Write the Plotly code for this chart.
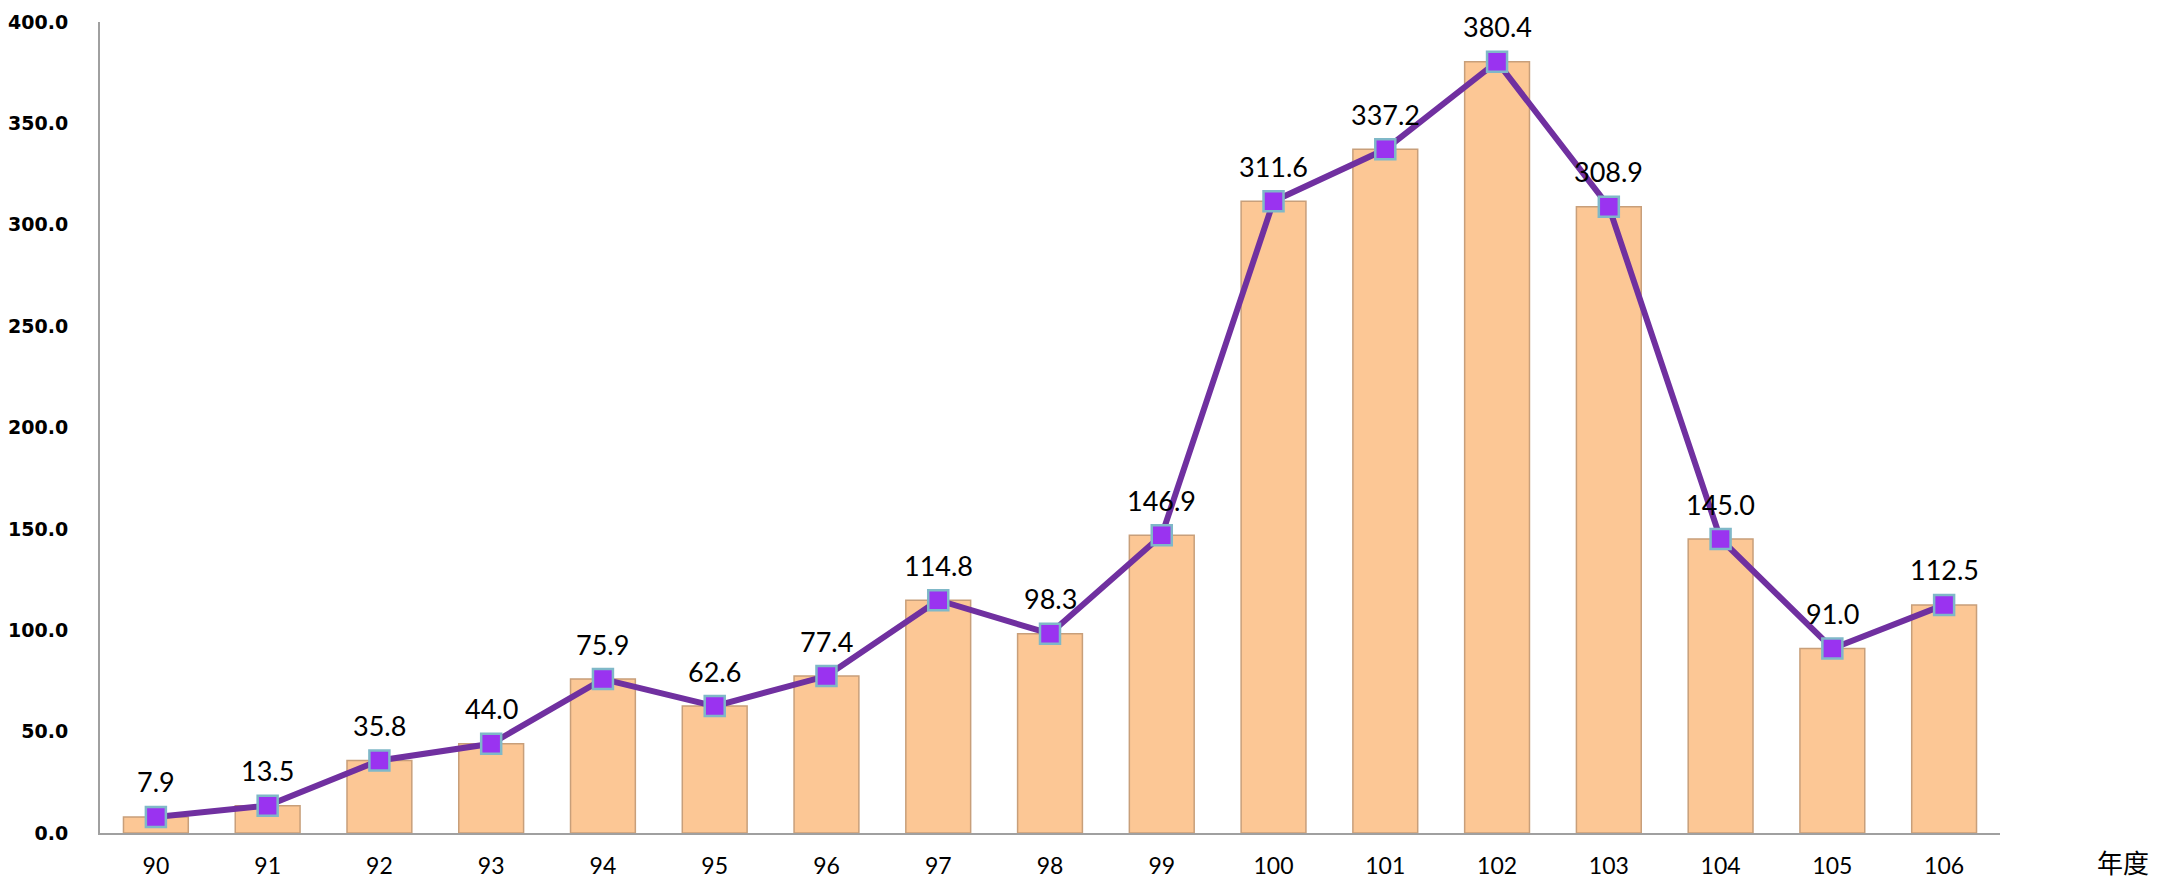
import plotly.graph_objects as go

years = ["90", "91", "92", "93", "94", "95", "96", "97", "98", "99",
         "100", "101", "102", "103", "104", "105", "106"]
values = [7.9, 13.5, 35.8, 44.0, 75.9, 62.6, 77.4, 114.8, 98.3, 146.9,
          311.6, 337.2, 380.4, 308.9, 145.0, 91.0, 112.5]
y_ticks = [0, 50, 100, 150, 200, 250, 300, 350, 400]
x_title = "年度"

fig = go.Figure()
fig.add_trace(go.Bar(
    x=years, y=values,
    marker=dict(color="#FCC795", line=dict(color="#C89F7A", width=1.5)),
    width=0.58, hoverinfo="skip", showlegend=False,
))
fig.add_trace(go.Scatter(
    x=years, y=values, mode="lines+markers",
    line=dict(color="#7030A0", width=6),
    marker=dict(symbol="square", size=20, color="#9A33F0",
                line=dict(color="#7FB8C8", width=2.5)),
    showlegend=False, cliponaxis=False,
))
for i, v in enumerate(values):
    fig.add_annotation(x=i, y=v, text=f"{v:.1f}", showarrow=False,
                       yshift=35, font=dict(family="Lato, Open Sans, sans-serif", size=27, color="#000"))

fig.add_annotation(xref="paper", yref="paper", x=1.0, y=0, xanchor="center", yanchor="top",
                   xshift=123, yshift=-8, text=x_title, showarrow=False,
                   font=dict(family="Noto Sans CJK TC", size=26, color="#000"))

fig.update_layout(
    width=2149, height=871,
    margin=dict(l=92, r=157, t=14, b=46),
    plot_bgcolor="white", paper_bgcolor="white",
    bargap=0.42,
    xaxis=dict(type="category", range=[-0.5, len(years) - 0.5], showgrid=False,
               showline=True, linecolor="#A0A0A0", linewidth=2, automargin=False,
               ticks="", ticklabelstandoff=11, tickangle=0,
               tickfont=dict(family="Lato, Open Sans, sans-serif", size=23, color="#000")),
    yaxis=dict(range=[0, 400], tickvals=y_ticks, tickformat=".1f", showgrid=False,
               zeroline=False, showline=True, linecolor="#A0A0A0", linewidth=2,
               automargin=False, ticks="", ticklabelstandoff=26,
               tickfont=dict(family="DejaVu Sans", size=19, color="#000", weight="bold")),
)
fig.write_html("out.html")
